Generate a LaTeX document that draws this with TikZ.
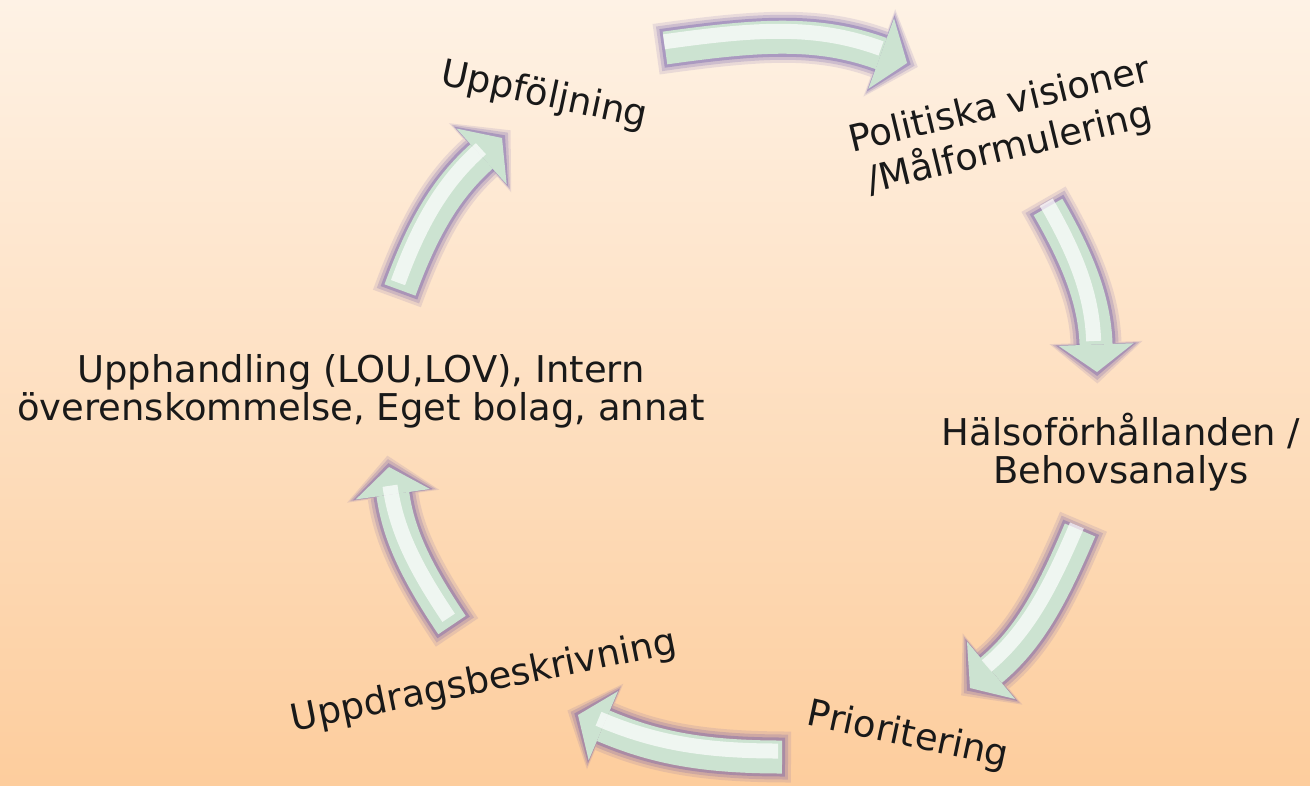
\documentclass[tikz,border=0pt]{standalone}
\usepackage{fontspec}
\setmainfont{DejaVu Sans}
\usetikzlibrary{arrows.meta}

\definecolor{bgtop}{RGB}{254,242,229}
\definecolor{bgbot}{RGB}{253,205,157}
\definecolor{mint}{RGB}{204,227,209}
\definecolor{halocol}{RGB}{110,90,170}

\begin{document}
\begin{tikzpicture}[x=0.02cm,y=0.02cm,
 lbl/.style={font=\fontsize{21}{21.5}\selectfont,align=center,inner sep=0pt,text=black!90},
 haloA/.style={draw=halocol,opacity=0.14,line width=1.02cm,shorten <=-0.18cm,shorten >=-0.23cm,
   -{Triangle[width=1.86cm,length=0.82cm,line width=0pt]}},
 haloB/.style={draw=halocol,opacity=0.22,line width=0.90cm,shorten <=-0.12cm,shorten >=-0.16cm,
   -{Triangle[width=1.74cm,length=0.73cm,line width=0pt]}},
 haloC/.style={draw=halocol,opacity=0.36,line width=0.78cm,shorten <=-0.06cm,shorten >=-0.08cm,
   -{Triangle[width=1.62cm,length=0.64cm,line width=0pt]}},
 body/.style={draw=mint,line width=0.66cm,-{Triangle[width=1.5cm,length=0.55cm,line width=0pt]}},
 shine/.style={draw=white,opacity=0.7,line width=0.3cm,shorten <=0.03cm,shorten >=0.5cm,
   transform canvas={shift={(-0.05cm,0.12cm)}}}]
\shade[top color=bgtop,bottom color=bgbot] (0,0) rectangle (1310,-785);
\useasboundingbox (0,0) rectangle (1310,-785);

% cycle labels
\node[lbl,rotate=-12] (follow) at (544,-96) {Uppföljning};
\node[lbl,rotate=13.5,font=\fontsize{21}{25}\selectfont] (vision) at (1005,-128) {Politiska visioner\\/Målformulering};
\node[lbl] (health) at (1121,-452) {Hälsoförhållanden /\\Behovsanalys};
\node[lbl,rotate=-12] (prio) at (908,-736) {Prioritering};
\node[lbl,rotate=11.5] (assign) at (484,-682) {Uppdragsbeskrivning};
\node[lbl] (procure) at (361,-391) {Upphandling (LOU,LOV), Intern\\överenskommelse, Eget bolag, annat};

% arrow ends
\coordinate (a1s) at (665,-48);  \coordinate (a1e) at (907,-63);
\coordinate (a2s) at (1048,-207); \coordinate (a2e) at (1097,-372);
\coordinate (a3s) at (1080,-530); \coordinate (a3e) at (970,-688);
\coordinate (a4s) at (782,-757);  \coordinate (a4e) at (578,-715);
\coordinate (a5s) at (452,-625);  \coordinate (a5e) at (389,-467);
\coordinate (a6s) at (400,-290);  \coordinate (a6e) at (502,-138);

\foreach \s/\e/\o/\n in {a1s/a1e/8/160, a2s/a2e/-60/92, a3s/a3e/-113/40,
  a4s/a4e/180/-23, a5s/a5e/124/-82, a6s/a6e/70/222}{
  \draw[haloA] (\s) to[out=\o,in=\n] (\e);
  \draw[haloB] (\s) to[out=\o,in=\n] (\e);
  \draw[haloC] (\s) to[out=\o,in=\n] (\e);
  \draw[body] (\s) to[out=\o,in=\n] (\e);
  \draw[shine] (\s) to[out=\o,in=\n] (\e);
}
\end{tikzpicture}
\end{document}
